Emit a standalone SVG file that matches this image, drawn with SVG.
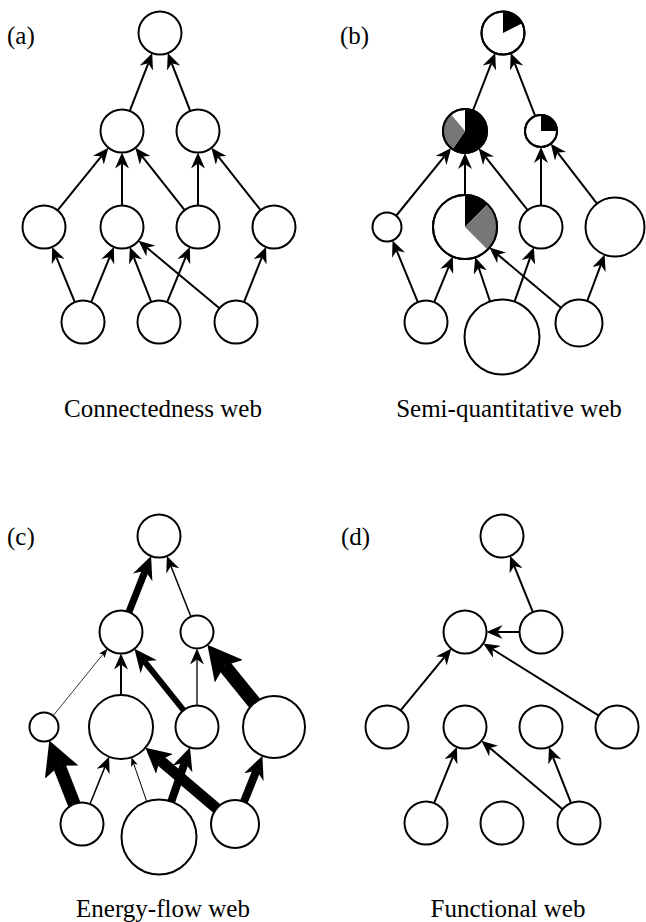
<svg xmlns="http://www.w3.org/2000/svg" width="646" height="922" viewBox="0 0 646 922">
<style>
.node circle{fill:#fff;stroke:#000;stroke-width:2}
.edge{stroke:#000;fill:none;stroke-width:2}
.blk{fill:#000}
.gry{fill:#777}
text{font-family:"Liberation Serif","Times New Roman",serif;font-size:25px;fill:#000}
.cap{text-anchor:middle}
</style>
<defs>
<marker id="ah" markerUnits="userSpaceOnUse" orient="auto" viewBox="0 -7 16 14" markerWidth="16" markerHeight="14" refX="5" refY="0"><path d="M0,-7 L16,0 L0,7 L5,0 Z" fill="#000"/></marker>
<marker id="ahS" markerUnits="userSpaceOnUse" orient="auto" viewBox="0 -3.5 9 7" markerWidth="9" markerHeight="7" refX="2" refY="0"><path d="M0,-3.5 L9,0 L0,3.5 L2,0 Z" fill="#000"/></marker>
<marker id="ahM" markerUnits="userSpaceOnUse" orient="auto" viewBox="0 -10.5 23 21" markerWidth="23" markerHeight="21" refX="7" refY="0"><path d="M0,-10.5 L23,0 L0,10.5 L7,0 Z" fill="#000"/></marker>
<marker id="ahK" markerUnits="userSpaceOnUse" orient="auto" viewBox="0 -13 25 26" markerWidth="25" markerHeight="26" refX="6" refY="0"><path d="M0,-13 L25,0 L0,13 L6,0 Z" fill="#000"/></marker>
<marker id="ahX" markerUnits="userSpaceOnUse" orient="auto" viewBox="0 -18 34 36" markerWidth="34" markerHeight="36" refX="7" refY="0"><path d="M0,-18 L34,0 L0,18 L7,0 Z" fill="#000"/></marker>
</defs>

<!-- Panel (a) -->
<g id="connectors-a" class="edge" marker-end="url(#ah)">
<line x1="129.77" y1="110.95" x2="148.25" y2="63.31"/>
<line x1="190.23" y1="110.95" x2="171.75" y2="63.31"/>
<line x1="57.56" y1="210.31" x2="101.5" y2="156.23"/>
<line x1="122" y1="205.5" x2="122" y2="163.5"/>
<line x1="184.65" y1="210.14" x2="142.18" y2="156.48"/>
<line x1="198" y1="205.5" x2="198" y2="163.5"/>
<line x1="260.65" y1="210.14" x2="218.18" y2="156.48"/>
<line x1="74.83" y1="302.11" x2="56.35" y2="257.07"/>
<line x1="91.17" y1="302.11" x2="109.65" y2="257.07"/>
<line x1="151.2" y1="301.97" x2="133.79" y2="257.28"/>
<line x1="167.17" y1="302.11" x2="185.65" y2="257.07"/>
<line x1="219.48" y1="308.24" x2="146.97" y2="247.8"/>
<line x1="243.98" y1="302.04" x2="261.93" y2="257.17"/>
</g>
<g id="a-top" class="node"><circle cx="160" cy="33" r="21.5"/></g>
<g id="a-l2-1" class="node"><circle cx="122" cy="131" r="21.5"/></g>
<g id="a-l2-2" class="node"><circle cx="198" cy="131" r="21.5"/></g>
<g id="a-l3-1" class="node"><circle cx="44" cy="227" r="21.5"/></g>
<g id="a-l3-2" class="node"><circle cx="122" cy="227" r="21.5"/></g>
<g id="a-l3-3" class="node"><circle cx="198" cy="227" r="21.5"/></g>
<g id="a-l3-4" class="node"><circle cx="274" cy="227" r="21.5"/></g>
<g id="a-l4-1" class="node"><circle cx="83" cy="322" r="21.5"/></g>
<g id="a-l4-2" class="node"><circle cx="159" cy="322" r="21.5"/></g>
<g id="a-l4-3" class="node"><circle cx="236" cy="322" r="21.5"/></g>
<text x="7" y="44">(a)</text>
<text class="cap" x="163" y="417">Connectedness web</text>

<!-- Panel (b) -->
<g id="connectors-b" class="edge" marker-end="url(#ah)">
<line x1="472.95" y1="110.49" x2="491.25" y2="63.31"/>
<line x1="535.22" y1="116.08" x2="514.75" y2="63.31"/>
<line x1="396.14" y1="215.75" x2="444.19" y2="156.61"/>
<line x1="465" y1="195" x2="465" y2="164"/>
<line x1="527.65" y1="210.14" x2="485.49" y2="156.87"/>
<line x1="541" y1="205.5" x2="541" y2="158"/>
<line x1="596.99" y1="203.64" x2="557.49" y2="152.38"/>
<line x1="417.83" y1="302.11" x2="396.69" y2="250.59"/>
<line x1="434.17" y1="302.11" x2="448.67" y2="266.78"/>
<line x1="490.04" y1="301.46" x2="478.71" y2="267.76"/>
<line x1="514.53" y1="301.66" x2="530.13" y2="257.63"/>
<line x1="561.02" y1="307.86" x2="497.89" y2="254.7"/>
<line x1="587.25" y1="301" x2="600.78" y2="264.92"/>
</g>
<g id="b-top" class="node"><circle cx="503" cy="33" r="21.5"/><path class="blk" d="M503,33 L503,11.5 A21.5,21.5 0 0 1 522.16,23.24 Z"/><circle cx="503" cy="33" r="21.5" style="fill:none"/></g>
<g id="b-l2-1" class="node"><circle cx="465" cy="131" r="22"/><path class="blk" d="M465,131 L465,109 A22,22 0 1 1 452.7,149.24 Z"/><path class="gry" d="M465,131 L452.7,149.24 A22,22 0 0 1 450.86,114.15 Z"/><circle cx="465" cy="131" r="22" style="fill:none"/></g>
<g id="b-l2-2" class="node"><circle cx="541" cy="131" r="16"/><path class="blk" d="M541,131 L541,115 A16,16 0 0 1 557,131 Z"/><circle cx="541" cy="131" r="16" style="fill:none"/></g>
<g id="b-l3-1" class="node"><circle cx="387" cy="227" r="14.5"/></g>
<g id="b-l3-2" class="node"><circle cx="465" cy="227" r="32"/><path class="blk" d="M465,227 L465,195 A32,32 0 0 1 487.63,204.37 Z"/><path class="gry" d="M465,227 L487.63,204.37 A32,32 0 0 1 487.63,249.63 Z"/><circle cx="465" cy="227" r="32" style="fill:none"/></g>
<g id="b-l3-3" class="node"><circle cx="541" cy="227" r="21.5"/></g>
<g id="b-l3-4" class="node"><circle cx="615" cy="227" r="29.5"/></g>
<g id="b-l4-1" class="node"><circle cx="426" cy="322" r="21.5"/></g>
<g id="b-l4-2" class="node"><circle cx="502" cy="337" r="37.5"/></g>
<g id="b-l4-3" class="node"><circle cx="579" cy="323" r="23.5"/></g>
<text x="340" y="44">(b)</text>
<text class="cap" x="509" y="417">Semi-quantitative web</text>

<!-- Panel (c) -->
<g id="connectors-c" class="edge">
<line x1="128.91" y1="612.01" x2="145.2" y2="570.87" style="stroke-width:7" marker-end="url(#ahM)"/>
<line x1="190.93" y1="616.66" x2="170.96" y2="566.22" style="stroke-width:1.5" marker-end="url(#ah)"/>
<line x1="53.13" y1="715.74" x2="103.05" y2="654.14" style="stroke-width:0.8" marker-end="url(#ahS)"/>
<line x1="121" y1="695" x2="121" y2="664.5" marker-end="url(#ah)"/>
<line x1="197" y1="727" x2="144.43" y2="661.28" style="stroke-width:6" marker-end="url(#ahM)"/>
<line x1="197" y1="705.5" x2="197" y2="659.5" style="stroke-width:1.3" marker-end="url(#ah)"/>
<line x1="274" y1="727" x2="224.39" y2="665.8" style="stroke-width:14" marker-end="url(#ahX)"/>
<line x1="82" y1="824" x2="59.14" y2="765.64" style="stroke-width:13" marker-end="url(#ahX)"/>
<line x1="90.02" y1="804.05" x2="104.96" y2="766.9" style="stroke-width:1.5" marker-end="url(#ah)"/>
<line x1="146.76" y1="801.55" x2="133.74" y2="763.87" style="stroke-width:1" marker-end="url(#ahS)"/>
<line x1="159" y1="837" x2="184.76" y2="762.44" style="stroke-width:8" marker-end="url(#ahM)"/>
<line x1="235" y1="824" x2="159.84" y2="760.05" style="stroke-width:11" marker-end="url(#ahK)"/>
<line x1="235" y1="824" x2="256.47" y2="770.6" style="stroke-width:8" marker-end="url(#ahM)"/>
</g>
<g id="c-top" class="node"><circle cx="159" cy="536" r="21.5"/></g>
<g id="c-l2-1" class="node"><circle cx="121" cy="632" r="21.5"/></g>
<g id="c-l2-2" class="node"><circle cx="197" cy="632" r="16.5"/></g>
<g id="c-l3-1" class="node"><circle cx="44" cy="727" r="14.5"/></g>
<g id="c-l3-2" class="node"><circle cx="121" cy="727" r="32"/></g>
<g id="c-l3-3" class="node"><circle cx="197" cy="727" r="21.5"/></g>
<g id="c-l3-4" class="node"><circle cx="274" cy="727" r="31"/></g>
<g id="c-l4-1" class="node"><circle cx="82" cy="824" r="21.5"/></g>
<g id="c-l4-2" class="node"><circle cx="159" cy="837" r="37.5"/></g>
<g id="c-l4-3" class="node"><circle cx="235" cy="824" r="24"/></g>
<text x="7" y="545">(c)</text>
<text class="cap" x="163" y="917">Energy-flow web</text>

<!-- Panel (d) -->
<g id="connectors-d" class="edge" marker-end="url(#ah)">
<line x1="532.91" y1="612.08" x2="514.23" y2="566.11"/>
<line x1="519.5" y1="632" x2="497.5" y2="632"/>
<line x1="400.64" y1="710.38" x2="444.38" y2="657.12"/>
<line x1="598.77" y1="715.6" x2="492.56" y2="649.23"/>
<line x1="434.09" y1="803.08" x2="452.77" y2="757.11"/>
<line x1="562.55" y1="809.15" x2="489.86" y2="747.94"/>
<line x1="571.09" y1="803.01" x2="552.96" y2="757.22"/>
</g>
<g id="d-top" class="node"><circle cx="502" cy="536" r="21.5"/></g>
<g id="d-l2-1" class="node"><circle cx="465" cy="632" r="21.5"/></g>
<g id="d-l2-2" class="node"><circle cx="541" cy="632" r="21.5"/></g>
<g id="d-l3-1" class="node"><circle cx="387" cy="727" r="21.5"/></g>
<g id="d-l3-2" class="node"><circle cx="465" cy="727" r="21.5"/></g>
<g id="d-l3-3" class="node"><circle cx="541" cy="727" r="21.5"/></g>
<g id="d-l3-4" class="node"><circle cx="617" cy="727" r="21.5"/></g>
<g id="d-l4-1" class="node"><circle cx="426" cy="823" r="21.5"/></g>
<g id="d-l4-2" class="node"><circle cx="502" cy="823" r="21.5"/></g>
<g id="d-l4-3" class="node"><circle cx="579" cy="823" r="21.5"/></g>
<text x="341" y="545">(d)</text>
<text class="cap" x="508" y="917">Functional web</text>
</svg>
